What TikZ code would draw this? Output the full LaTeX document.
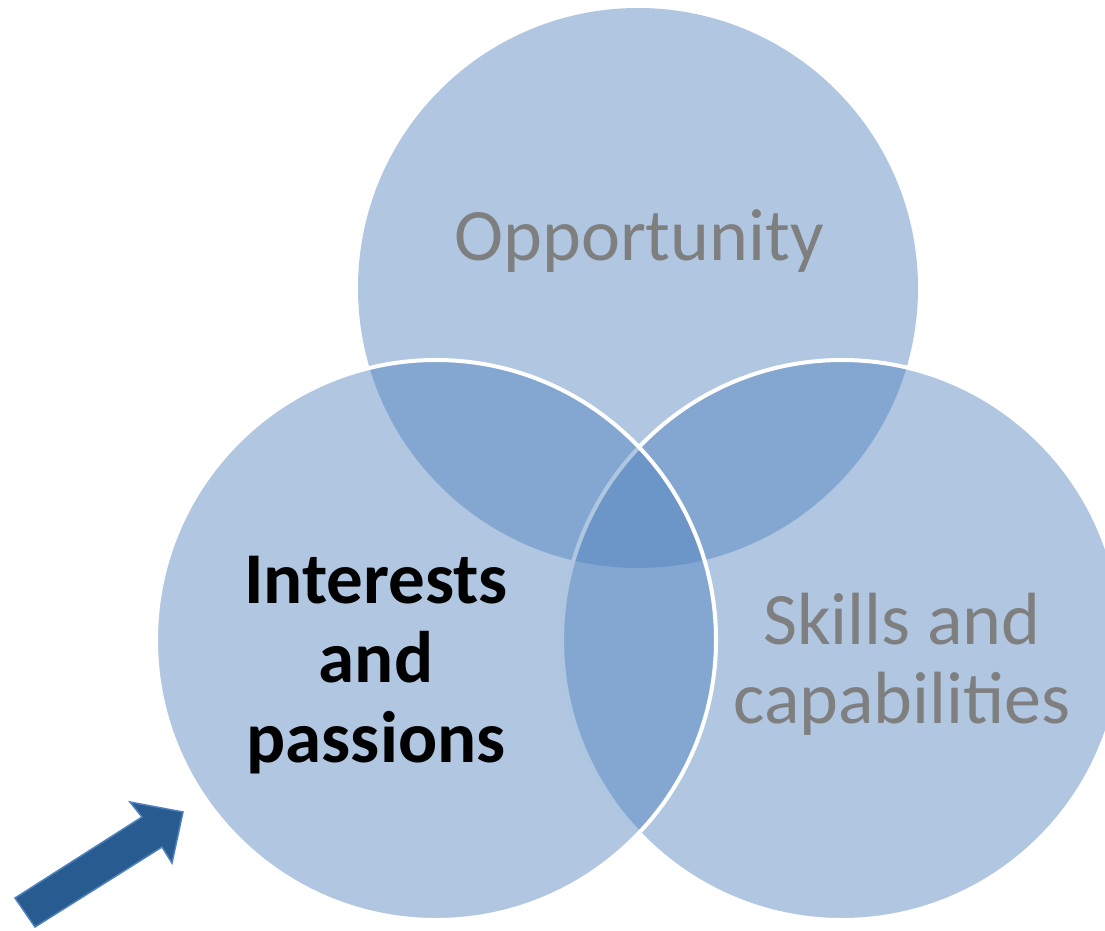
\documentclass[tikz,border=0pt]{standalone}
\usepackage{fontspec}
\setmainfont{Carlito}
\definecolor{vennblue}{RGB}{79,129,189}
\definecolor{arrowblue}{RGB}{40,92,145}
\definecolor{labelgray}{RGB}{127,127,127}
\tikzset{
  set/.style={fill=vennblue,fill opacity=0.45},
  rim/.style={draw=white,line width=4pt},
  greylabel/.style={text=labelgray,font=\fontsize{74}{79}\selectfont,align=center,anchor=base},
  boldlabel/.style={text=black,font=\fontsize{73}{79.5}\selectfont\bfseries,align=center,anchor=base}
}
\begin{document}
\begin{tikzpicture}[x=1pt,y=-1pt]
   \useasboundingbox (0,0) rectangle (1105,931);
   % the three sets
   \begin{scope}
      \clip (0,0) rectangle (1105,931);
      \fill [set] (638,288) circle (280);
      \filldraw [set,rim] (842,640) circle (280);
      \filldraw [set,rim] (436,640) circle (280);
   \end{scope}
   \node (opportunity) [greylabel] at (639,260) {Opportunity};
   \node (skills) [greylabel] at (902,723) {Skills and\\capabilities};
   \node (interests) [boldlabel] at (376,762) {Interests\\and\\passions};
   % block arrow
   \filldraw [fill=arrowblue,draw=vennblue,line width=1.5pt,line join=miter]
      (15,898) -- (142,817) -- (130,802) -- (183,812) -- (172,863) -- (162,847) -- (35,927) -- cycle;
\end{tikzpicture}
\end{document}
